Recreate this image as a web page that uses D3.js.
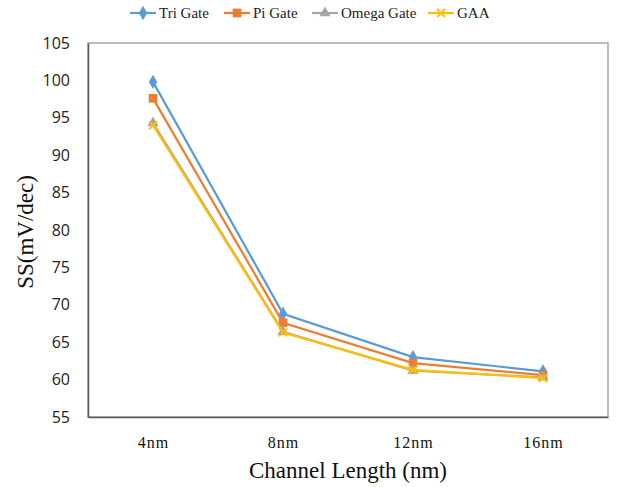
<!DOCTYPE html>
<html>
<head>
<meta charset="utf-8">
<script src="https://cdn.jsdelivr.net/npm/d3@7"></script>
<style>
  body { margin: 0; background: #fff; }
</style>
</head>
<body>
<svg id="chart"></svg>
<script>
// data
const lengths = ["4nm", "8nm", "12nm", "16nm"];
const triGate = [99.8, 68.8, 63.0, 61.1];
const piGate = [97.6, 67.6, 62.2, 60.6];
const omegaGate = [94.3, 66.4, 61.2, 60.3];
const gaa = [94.0, 66.3, 61.3, 60.2];
const yTicks = [55, 60, 65, 70, 75, 80, 85, 90, 95, 100, 105];

const series = [
  { name: "Tri Gate", values: triGate, color: "#5B9BD5", marker: "diamond" },
  { name: "Pi Gate", values: piGate, color: "#ED7D31", marker: "square" },
  { name: "Omega Gate", values: omegaGate, color: "#A5A5A5", marker: "triangle" },
  { name: "GAA", values: gaa, color: "#FFC000", marker: "cross" },
];

const W = 618, H = 487;
const margin = { top: 43, right: 10, bottom: 70, left: 88 };
const width = W - margin.left - margin.right;
const height = H - margin.top - margin.bottom;

const svg = d3.select("#chart").attr("width", W).attr("height", H);
const g = svg.append("g").attr("transform", `translate(${margin.left},${margin.top})`);

const x = d3.scalePoint().domain(lengths).range([0, width]).padding(0.5);
const y = d3.scaleLinear().domain([55, 105]).range([height, 0]);

// plot frame
g.append("rect")
  .attr("x", 0).attr("y", 0)
  .attr("width", width).attr("height", height)
  .attr("fill", "none")
  .attr("stroke", "#a6a6a6")
  .attr("stroke-width", 1.5);

// axes
const yAxis = g.append("g").call(d3.axisLeft(y).tickValues(yTicks).tickSize(0).tickPadding(18));
yAxis.select(".domain").attr("stroke", "#595959").attr("stroke-width", 1.5);
yAxis.selectAll("text")
  .attr("font-family", "'Open Sans', sans-serif")
  .attr("font-size", "16px")
  .attr("fill", "#222");

const xAxis = g.append("g")
  .attr("transform", `translate(0,${height})`)
  .call(d3.axisBottom(x).tickSize(0).tickPadding(20));
xAxis.select(".domain").attr("stroke", "#595959").attr("stroke-width", 1.5);
xAxis.selectAll("text")
  .attr("font-family", "'Liberation Serif', 'Times New Roman', serif")
  .attr("font-size", "16px")
  .attr("letter-spacing", "1px")
  .attr("fill", "#111");

// marker shapes
function markerPath(type) {
  if (type === "diamond") return d3.symbol().type(d3.symbolDiamond).size(60)();
  if (type === "square") return d3.symbol().type(d3.symbolSquare).size(75)();
  if (type === "triangle") return d3.symbol().type(d3.symbolTriangle).size(55)();
  return "M-4,-4L4,4M-4,4L4,-4";
}

const line = d3.line()
  .x((d, i) => x(lengths[i]))
  .y((d) => y(d));

series.forEach((s) => {
  g.append("path")
    .datum(s.values)
    .attr("fill", "none")
    .attr("stroke", s.color)
    .attr("stroke-width", 2.2)
    .attr("d", line);

  g.selectAll(null)
    .data(s.values)
    .enter()
    .append("path")
    .attr("transform", (d, i) => `translate(${x(lengths[i])},${y(d)})`)
    .attr("d", markerPath(s.marker))
    .attr("fill", s.marker === "cross" ? "none" : s.color)
    .attr("stroke", s.color)
    .attr("stroke-width", s.marker === "cross" ? 1.8 : 0);
});

// legend
const legendX = [130, 224, 312, 428];
const legend = svg.append("g").attr("transform", "translate(0,13)");
series.forEach((s, i) => {
  const lg = legend.append("g").attr("transform", `translate(${legendX[i]},0)`);
  lg.append("line")
    .attr("x1", 0).attr("x2", 26)
    .attr("stroke", s.color).attr("stroke-width", 2.2);
  lg.append("path")
    .attr("transform", "translate(13,0)")
    .attr("d", markerPath(s.marker))
    .attr("fill", s.marker === "cross" ? "none" : s.color)
    .attr("stroke", s.color)
    .attr("stroke-width", s.marker === "cross" ? 1.8 : 0);
  lg.append("text")
    .attr("x", 29).attr("y", 5)
    .attr("font-family", "'Liberation Serif', 'Times New Roman', serif")
    .attr("font-size", "15px")
    .attr("fill", "#222")
    .text(s.name);
});

// axis titles
svg.append("text")
  .attr("x", margin.left + width / 2)
  .attr("y", 478)
  .attr("text-anchor", "middle")
  .attr("font-family", "'Liberation Serif', 'Times New Roman', serif")
  .attr("font-size", "23px")
  .attr("fill", "#111")
  .text("Channel Length (nm)");

svg.append("text")
  .attr("transform", "rotate(-90)")
  .attr("x", -232)
  .attr("y", 33)
  .attr("text-anchor", "middle")
  .attr("font-family", "'Liberation Serif', 'Times New Roman', serif")
  .attr("font-size", "23px")
  .attr("fill", "#111")
  .text("SS(mV/dec)");
</script>
</body>
</html>
